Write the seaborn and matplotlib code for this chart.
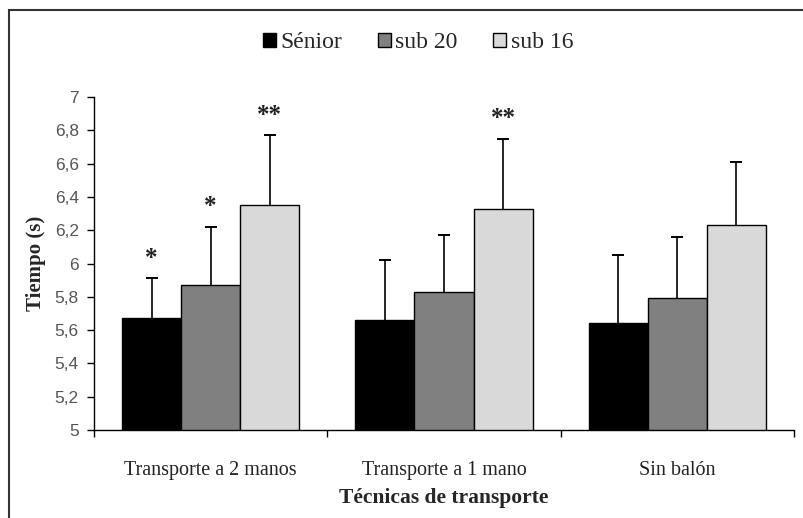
import pandas as pd
import matplotlib.pyplot as plt
import seaborn as sns
from matplotlib.patches import Rectangle

categories = ["Transporte a 2 manos", "Transporte a 1 mano", "Sin balón"]
groups = ["Sénior", "sub 20", "sub 16"]

senior_mean = [5.67, 5.66, 5.64]
senior_sd = [0.24, 0.36, 0.41]
sub20_mean = [5.87, 5.83, 5.79]
sub20_sd = [0.35, 0.34, 0.37]
sub16_mean = [6.35, 6.33, 6.23]
sub16_sd = [0.42, 0.42, 0.38]

# significance marks per group (in category order)
senior_sig = ["*", "", ""]
sub20_sig = ["*", "", ""]
sub16_sig = ["**", "**", ""]

colors = ["#000000", "#808080", "#d9d9d9"]

rows = []
for g, means in zip(groups, [senior_mean, sub20_mean, sub16_mean]):
    for c, m in zip(categories, means):
        rows.append({"tecnica": c, "grupo": g, "tiempo": m})
df = pd.DataFrame(rows)

sns.set_style("white")
plt.rcParams['font.family'] = ['Liberation Serif', 'DejaVu Serif']

fig = plt.figure(figsize=(8.04, 5.18), dpi=100)
ax = fig.add_axes([94 / 804, 1 - 430 / 518, 700 / 804, 333 / 518])

sns.barplot(
    data=df, x="tecnica", y="tiempo", hue="grupo",
    order=categories, hue_order=groups,
    palette=colors, edgecolor="black", linewidth=1,
    width=0.76, errorbar=None, ax=ax
)

# upper-only error bars (SD) and significance marks
sds = [senior_sd, sub20_sd, sub16_sd]
sigs = [senior_sig, sub20_sig, sub16_sig]
for cont, sd, sig in zip(ax.containers, sds, sigs):
    xs = [p.get_x() + p.get_width() / 2 for p in cont.patches]
    ys = [p.get_height() + p.get_y() for p in cont.patches]
    tops = [y + e for y, e in zip(ys, sd)]
    ax.vlines(xs, ys, tops, colors="black", linewidth=1.2, zorder=3)
    ax.plot(xs, tops, marker="_", markersize=9, markeredgewidth=1.4,
            color="black", linestyle="none", zorder=3)
    for x, t, s in zip(xs, tops, sig):
        if s:
            ax.text(x, t + 0.12, s, ha="center", va="center",
                    fontsize=18, fontweight="bold", color="#222222")

ax.set_ylim(5, 7)
ax.set_yticks([5, 5.2, 5.4, 5.6, 5.8, 6, 6.2, 6.4, 6.6, 6.8, 7])
ax.set_yticklabels(["5", "5,2", "5,4", "5,6", "5,8", "6", "6,2", "6,4", "6,6", "6,8", "7"],
                   fontfamily="Liberation Sans", fontsize=12.5, color="#555555")
ax.set_xlim(-0.5, 2.5)
ax.set_xticks([0, 1, 2])
ax.set_xticklabels(categories, fontsize=14.5, color="#222222")
ax.set_xticks([-0.5, 0.5, 1.5, 2.5], minor=True)
ax.tick_params(axis="x", which="major", bottom=False, length=0, pad=22)
ax.tick_params(axis="x", which="minor", bottom=True, length=5, width=1,
               color="black", direction="out")
ax.tick_params(axis="y", left=True, length=5, width=1, color="black",
               direction="out", pad=6)

for side in ["top", "right"]:
    ax.spines[side].set_visible(False)
for side in ["left", "bottom"]:
    ax.spines[side].set_color("black")
    ax.spines[side].set_linewidth(1)

ax.set_xlabel("Técnicas de transporte", fontsize=15.5, fontweight="bold", labelpad=6)
ax.set_ylabel("Tiempo (s)", fontsize=15, fontweight="bold", labelpad=6)

handles, labels = ax.get_legend_handles_labels()
ax.get_legend().remove()
fig.legend(handles, labels, loc="center", bbox_to_anchor=(0.52, 0.917), ncol=3,
           frameon=False, fontsize=17, handlelength=0.55, handleheight=0.55,
           handletextpad=0.2, columnspacing=1.5)

fig.add_artist(Rectangle((9 / 804, -0.02), 1.0, 1 - 10 / 518 + 0.02,
                         transform=fig.transFigure, fill=False,
                         edgecolor="#333333", linewidth=1.5))

fig.savefig("out.png", dpi=100)
